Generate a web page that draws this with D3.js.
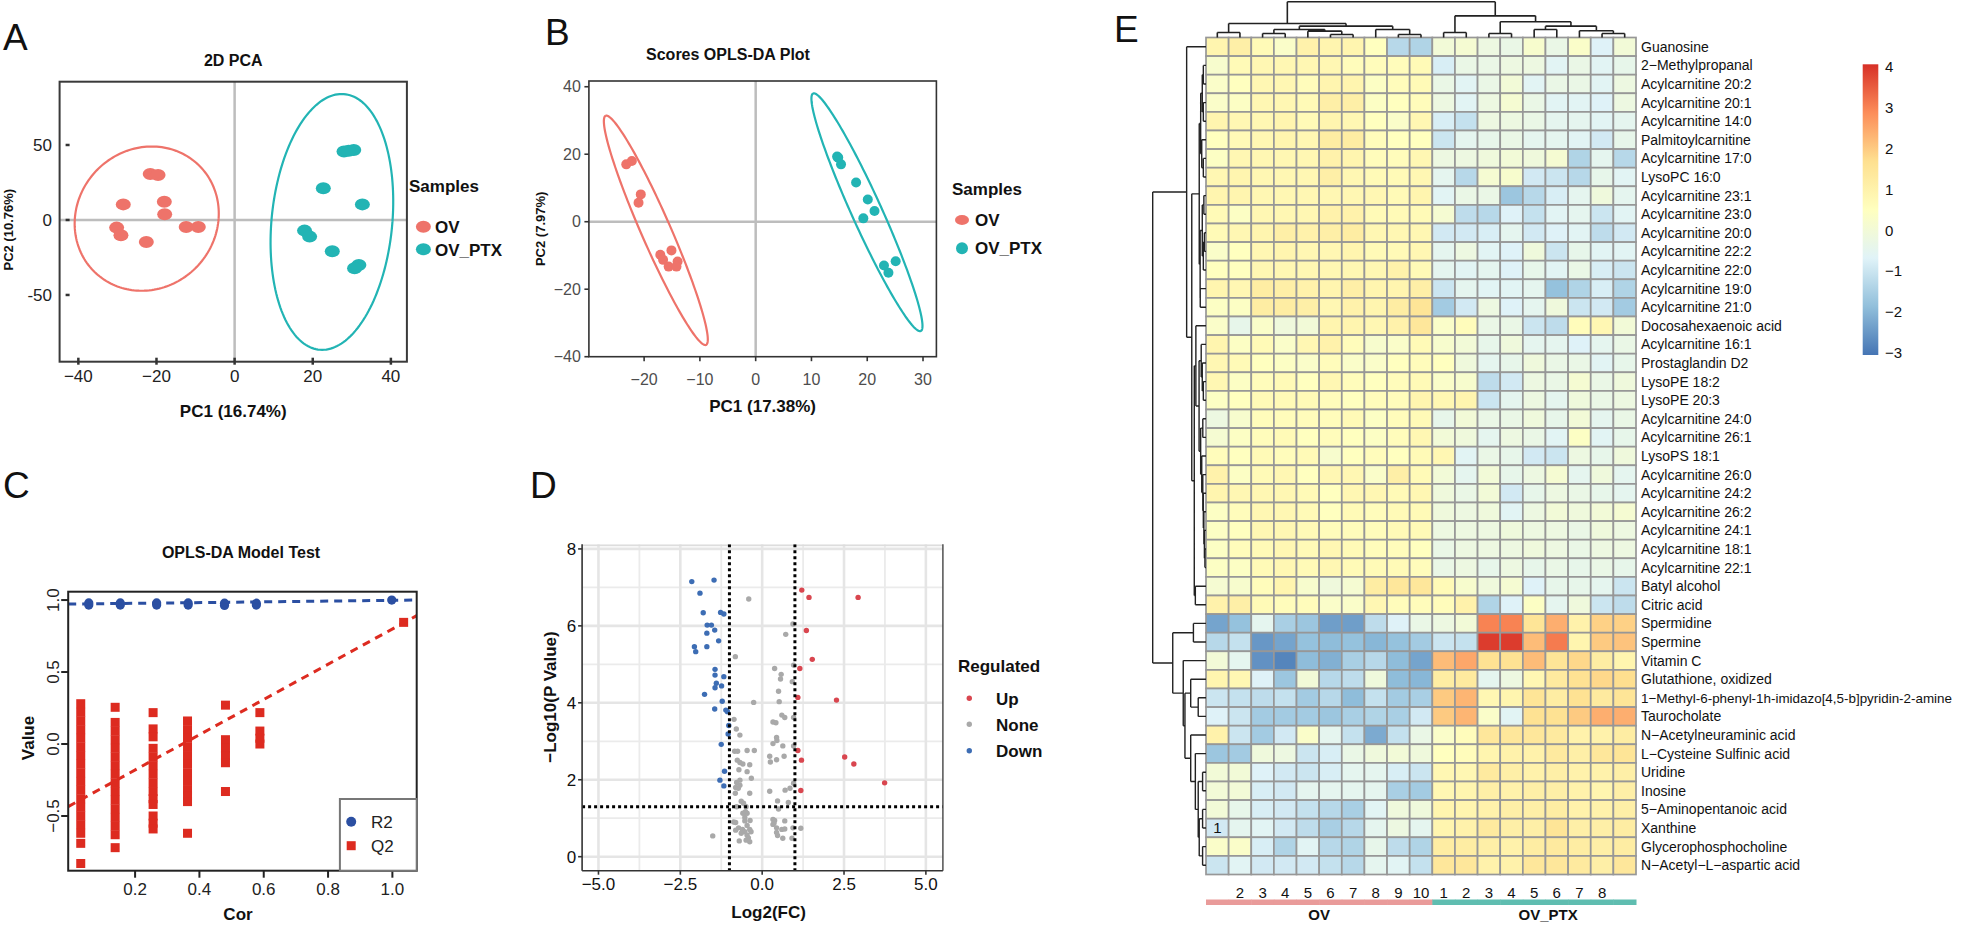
<!DOCTYPE html>
<html><head><meta charset="utf-8">
<script src="https://cdn.jsdelivr.net/npm/d3@7"></script>
<style>
body{margin:0;background:#fff}
svg{display:block}
text{font-family:"Liberation Sans",Arial,Helvetica,sans-serif}
</style></head>
<body><svg id="fig" width="1962" height="926"></svg>
<script>
// ================= DATA =================
// Panel A: 2D PCA
const pcaA_xTicks = [-40, -20, 0, 20, 40];
const pcaA_yTicks = [50, 0, -50];
const ovA_x = [-21.6, -19.6, -28.5, -18.0, -17.9, -30.2, -29.1, -22.6, -12.4, -9.3];
const ovA_y = [30.7, 30.0, 10.4, 12.2, 3.8, -5.1, -10.2, -14.7, -4.7, -4.7];
const ptxA_x = [28.0, 30.5, 29.2, 22.7, 32.7, 17.9, 19.2, 25.0, 31.8, 30.7];
const ptxA_y = [45.6, 46.7, 46.1, 21.1, 10.4, -7.1, -11.1, -20.9, -30.0, -32.2];
// ellipse: centre, semi-axes, shear
const ellA_OV = {cx: -22.5, cy: 0.9, rx: 18.4, ry: 48.1, sh: 1.3};
const ellA_PTX = {cx: 24.9, cy: -1.3, rx: 15.5, ry: 85.3, sh: 2.5};

// Panel B: OPLS-DA scores
const oplsB_xTicks = [-20, -10, 0, 10, 20, 30];
const oplsB_yTicks = [-40, -20, 0, 20, 40];
const ovB_x = [-23.2, -22.2, -20.6, -21.0, -17.1, -16.6, -15.1, -15.6, -14.0, -14.2];
const ovB_y = [17.0, 18.0, 8.1, 5.6, -9.8, -11.3, -8.5, -13.3, -11.8, -13.3];
const ptxB_x = [14.6, 15.3, 18.0, 20.1, 21.3, 19.3, 23.0, 23.8, 25.1, 14.8];
const ptxB_y = [19.3, 17.0, 11.6, 6.6, 3.2, 1.0, -13.0, -15.1, -11.7, 19.0];
// ellipse tips (data) + minor half width (px)
const ellB_OV = {x1: -26.9, y1: 31.4, x2: -8.9, y2: -36.5, w: 14.7};
const ellB_PTX = {x1: 10.3, y1: 38.0, x2: 29.6, y2: -32.4, w: 15.0};

// Panel C: permutation test
const permC_xTicks = [0.2, 0.4, 0.6, 0.8, 1.0];
const permC_yTicks = [-0.5, 0.0, 0.5, 1.0];
const r2X = [0.056, 0.154, 0.267, 0.365, 0.478, 0.577, 0.998];
const r2Vals = [[0.965, 0.98], [0.965, 0.98], [0.965, 0.98], [0.965, 0.98], [0.963, 0.978], [0.965, 0.978], [1.0]];
const q2X = [0.031, 0.138, 0.256, 0.363, 0.481, 0.588, 1.035];
const q2Vals = [
  [0.28, 0.22, 0.16, 0.10, 0.04, -0.02, -0.08, -0.14, -0.20, -0.26, -0.32, -0.38, -0.44, -0.50, -0.56, -0.62, -0.69, -0.83],
  [0.255, 0.15, 0.09, 0.03, -0.03, -0.09, -0.15, -0.21, -0.27, -0.33, -0.39, -0.45, -0.51, -0.57, -0.63, -0.72],
  [0.218, 0.105, 0.05, -0.03, -0.09, -0.15, -0.21, -0.27, -0.33, -0.38, -0.42, -0.50, -0.55, -0.59],
  [0.16, 0.10, 0.04, -0.02, -0.08, -0.14, -0.20, -0.26, -0.32, -0.36, -0.40, -0.62],
  [0.27, 0.03, -0.03, -0.08, -0.13, -0.33],
  [0.218, 0.09, 0.04, 0.00],
  [0.845]
];
const r2Line = {intercept: 0.972, slope: 0.026};
const q2Line = {intercept: -0.425, slope: 1.224};

// Panel D: volcano
const volD_xTicks = [-5.0, -2.5, 0.0, 2.5, 5.0];
const volD_yTicks = [0, 2, 4, 6, 8];
const fcCut = [-1, 1];
const pCut = 1.301;
const upX = [1.21, 1.43, 2.93, 1.35, 1.53, 1.15, 1.09, 2.27, 1.09, 1.20, 2.52, 2.80, 3.74, 1.18];
const upY = [6.93, 6.74, 6.74, 5.88, 5.13, 4.89, 4.14, 4.07, 2.76, 2.51, 2.59, 2.41, 1.92, 1.72];
const downX = [-2.15, -1.47, -1.90, -1.80, -1.27, -1.17, -1.68, -1.55, -1.45, -1.69, -1.33, -2.07, -2.03, -1.69, -1.44, -1.44, -1.17, -1.40, -1.44, -1.24, -1.76, -1.22, -1.45, -1.11, -1.06, -1.02, -1.04, -1.25, -1.15, -1.29, -1.17];
const downY = [7.15, 7.19, 6.85, 6.34, 6.35, 6.31, 6.02, 6.02, 5.89, 5.81, 5.61, 5.46, 5.33, 5.46, 4.87, 4.72, 4.68, 4.51, 4.39, 4.44, 4.22, 4.04, 3.84, 3.81, 3.77, 3.41, 3.19, 2.92, 2.22, 1.99, 1.84];
const noneX = [-0.41, 0.94, 0.72, -0.82, 0.38, 0.58, 0.56, 0.92, 0.96, 0.50, 0.52, -0.26, 0.60, 0.69, 0.96, -0.86, 0.33, 0.42, -0.79, -0.68, 0.44, 0.45, 0.33, 0.63, 0.96, -0.84, -0.75, -0.46, -0.24, 0.23, 0.67, 0.44, 0.25, -0.76, -0.68, -0.59, -0.38, -0.46, -0.71, -0.33, -0.68, -0.78, -0.81, -0.73, -0.68, -0.82, -0.38, 0.23, 0.70, 0.85, 0.96, -0.64, -0.57, 0.47, 0.80, -0.78, -0.49, 0.50, -0.51, -0.46, -0.59, -0.53, -0.81, -0.53, -0.37, 0.33, 0.38, 0.69, 0.33, -0.72, -0.60, -0.38, -0.46, 0.44, 0.60, 0.69, 0.94, 1.18, -1.51, -0.53, -0.64, -0.46, -0.42, -0.70, -0.38, -0.49, 0.44, 0.47, 0.63, 0.91, 0.36, -0.87, -0.81, -0.34];
const noneY = [6.70, 6.05, 5.78, 5.20, 4.89, 4.74, 4.62, 4.55, 4.98, 4.30, 4.03, 4.01, 3.68, 3.62, 3.62, 3.57, 3.50, 3.48, 3.32, 3.16, 3.10, 3.02, 2.94, 2.88, 2.88, 2.74, 2.74, 2.76, 2.76, 2.61, 2.61, 2.52, 2.46, 2.51, 2.45, 2.41, 2.39, 2.21, 2.26, 2.04, 1.99, 1.93, 1.80, 1.78, 1.86, 1.65, 1.65, 1.70, 1.73, 1.78, 1.91, 1.44, 1.39, 1.45, 1.41, 1.30, 1.30, 1.24, 1.17, 1.13, 1.13, 1.02, 0.89, 0.93, 0.94, 0.97, 0.94, 0.93, 0.84, 0.75, 0.71, 0.71, 0.81, 0.75, 0.71, 0.72, 0.75, 0.74, 0.54, 0.65, 0.61, 0.56, 0.49, 0.41, 0.39, 0.43, 0.63, 0.55, 0.48, 0.48, 0.87, 0.90, 0.69, 0.65];

// Panel E: heatmap
const rowNames = ["Guanosine", "2\u2212Methylpropanal", "Acylcarnitine 20:2", "Acylcarnitine 20:1", "Acylcarnitine 14:0", "Palmitoylcarnitine", "Acylcarnitine 17:0", "LysoPC 16:0", "Acylcarnitine 23:1", "Acylcarnitine 23:0", "Acylcarnitine 20:0", "Acylcarnitine 22:2", "Acylcarnitine 22:0", "Acylcarnitine 19:0", "Acylcarnitine 21:0", "Docosahexaenoic acid", "Acylcarnitine 16:1", "Prostaglandin D2", "LysoPE 18:2", "LysoPE 20:3", "Acylcarnitine 24:0", "Acylcarnitine 26:1", "LysoPS 18:1", "Acylcarnitine 26:0", "Acylcarnitine 24:2", "Acylcarnitine 26:2", "Acylcarnitine 24:1", "Acylcarnitine 18:1", "Acylcarnitine 22:1", "Batyl alcohol", "Citric acid", "Spermidine", "Spermine", "Vitamin C", "Glutathione, oxidized", "1\u2212Methyl-6-phenyl-1h-imidazo[4,5-b]pyridin-2-amine", "Taurocholate", "N\u2212Acetylneuraminic acid", "L\u2212Cysteine Sulfinic acid", "Uridine", "Inosine", "5\u2212Aminopentanoic acid", "Xanthine", "Glycerophosphocholine", "N\u2212Acetyl\u2212L\u2212aspartic acid"];
const colLabels = ["1", "2", "3", "4", "5", "6", "7", "8", "9", "10", "1", "2", "3", "4", "5", "6", "7", "8", ""];
const colGroups = ["OV", "OV", "OV", "OV", "OV", "OV", "OV", "OV", "OV", "OV", "OV_PTX", "OV_PTX", "OV_PTX", "OV_PTX", "OV_PTX", "OV_PTX", "OV_PTX", "OV_PTX", "OV_PTX"];
const groupNames = ["OV", "OV_PTX"];
const heatValues = [
  [0.9, 1.1, 0.7, 0.3, 1.0, 0.9, 0.9, 0.5, -1.3, -1.4, 0.0, 0.1, -0.2, -0.3, 0.2, -0.3, 0.3, -0.7, 0.0],
  [0.2, 0.7, 0.8, 0.8, 0.8, 0.8, 0.6, 0.6, 0.6, 0.7, -0.8, -0.3, -0.3, -0.2, -0.2, -0.6, -0.3, -0.6, -0.4],
  [0.3, 0.5, 0.8, 0.8, 0.6, 0.9, 0.9, 0.4, 0.6, 0.7, -0.3, -0.6, -0.3, 0.0, -0.6, -0.3, -0.3, -0.6, -0.2],
  [0.3, 0.4, 0.8, 0.8, 0.7, 1.1, 1.1, 0.4, 0.5, 0.6, -0.2, -0.6, -0.2, 0.1, -0.3, -0.6, -0.6, -0.7, -0.2],
  [0.9, 0.8, 0.8, 0.9, 0.7, 0.9, 0.8, 0.5, 0.3, 0.8, -0.8, -1.1, -0.2, -0.2, -0.3, -0.5, -0.5, -0.6, -0.5],
  [0.5, 0.7, 0.8, 0.9, 0.8, 1.2, 1.2, 0.6, 0.5, 0.5, -1.0, -0.5, -0.4, -0.3, -0.5, -0.5, -0.6, -0.9, -0.4],
  [0.4, 0.8, 0.8, 0.8, 0.8, 1.0, 0.9, 0.6, 0.6, 0.8, -0.2, -0.2, -0.1, 0.0, -0.1, 0.1, -1.4, -0.5, -1.3],
  [0.8, 0.9, 0.8, 0.8, 0.8, 1.1, 0.8, 0.7, 0.7, 0.8, -0.5, -1.3, 0.1, 0.2, -0.9, -1.0, -1.3, -0.4, -0.6],
  [0.9, 0.9, 0.8, 0.8, 0.8, 0.8, 0.8, 0.8, 0.7, 0.9, -0.6, -0.3, -0.3, -1.7, -1.3, -0.8, -0.5, -0.1, -0.5],
  [0.7, 0.4, 0.8, 0.8, 0.8, 1.0, 1.0, 0.7, 0.7, 0.7, 0.1, -1.2, -1.3, -0.7, -1.1, -0.6, -0.5, -1.0, -0.6],
  [0.7, 0.8, 0.9, 1.1, 1.0, 1.1, 1.2, 0.8, 0.8, 0.8, -0.9, -0.9, -0.8, -0.5, -0.9, -0.7, -0.6, -1.2, -0.9],
  [0.3, 0.5, 0.8, 0.9, 0.8, 0.8, 0.9, 0.7, 0.7, 0.8, -0.5, -0.2, -0.6, -0.7, -0.1, -1.0, -0.4, -0.6, -0.6],
  [0.5, 0.5, 0.8, 0.8, 0.8, 0.8, 0.8, 0.8, 1.0, 0.7, -0.5, -0.6, -0.5, -0.7, -0.4, -0.6, -0.3, -0.8, -1.0],
  [0.9, 0.8, 1.2, 1.1, 1.0, 0.9, 1.1, 0.9, 0.9, 1.1, -1.0, -0.5, -0.6, -0.6, -0.5, -1.8, -1.4, -0.8, -1.4],
  [0.4, 0.4, 1.2, 1.2, 1.1, 0.8, 1.0, 0.9, 1.2, 1.5, -1.6, -0.9, -0.2, -0.7, -0.5, -0.1, -1.0, -0.9, -1.6],
  [0.3, -0.4, 0.3, -0.1, 0.0, 0.9, 0.9, 0.8, 1.0, 1.4, 0.3, 0.6, -0.3, -0.3, -1.0, -1.2, 0.6, 0.8, 0.0],
  [0.9, 0.4, 0.7, 0.3, 0.8, 1.0, 0.6, 0.2, 0.3, 0.7, 0.2, 0.0, -0.4, -0.1, -0.5, -0.5, -0.7, -0.5, -0.3],
  [0.8, 0.7, 0.5, 0.4, 0.3, 0.6, 0.3, 0.3, 0.5, 0.6, 0.5, -0.1, -0.5, -0.4, -0.1, -0.3, -0.3, -0.6, -0.4],
  [0.8, 0.4, 0.6, 0.7, 0.5, 0.8, 0.6, 0.5, 0.6, 0.7, 0.3, 0.2, -1.2, -0.9, -0.2, -0.3, 0.1, -0.3, -0.1],
  [0.4, 0.5, 0.7, 0.7, 0.7, 0.6, 0.5, 0.6, 0.6, 0.9, 0.8, 0.9, -1.0, -0.5, -0.2, -0.5, -0.1, -0.3, -0.2],
  [-0.2, 0.2, 0.6, 0.6, 0.6, 0.6, 0.7, 0.4, 0.6, 0.7, -0.4, 0.0, -0.3, -0.3, -0.1, -0.4, 0.0, -0.5, -0.3],
  [0.1, 0.4, 0.6, 0.7, 0.5, 0.6, 0.5, 0.4, 0.6, 0.8, 0.0, -0.1, -0.5, -0.2, -0.3, -0.6, 0.4, -0.6, -0.4],
  [0.6, 0.5, 0.7, 0.6, 0.7, 0.2, 0.5, 0.6, 0.5, 0.7, 0.8, -0.6, -0.3, -0.4, -0.9, -1.0, -0.2, -0.4, -0.1],
  [1.0, 0.4, 0.7, 0.8, 0.5, 0.8, 0.8, 0.3, 1.1, 0.7, 0.0, -0.5, 0.0, -0.4, -0.2, 0.1, -0.5, -0.1, -0.5],
  [0.9, 0.8, 0.8, 0.8, 0.7, 0.5, 0.8, 0.8, 0.7, 0.8, -0.1, -0.3, 0.0, -0.9, -0.4, -0.2, -0.3, -0.4, -0.5],
  [0.4, 0.6, 0.8, 0.8, 0.7, 0.5, 0.7, 0.6, 0.7, 0.7, -0.1, -0.2, -0.1, -0.6, -0.2, 0.0, -0.1, 0.0, 0.1],
  [0.4, 0.5, 0.8, 0.8, 0.7, 0.6, 0.6, 0.6, 0.7, 0.7, -0.2, -0.2, -0.2, -0.1, -0.2, -0.2, -0.3, -0.1, -0.2],
  [0.4, 0.6, 0.7, 0.8, 0.7, 0.8, 0.7, 0.6, 0.6, 0.5, -0.3, -0.2, -0.2, -0.2, -0.1, -0.2, -0.3, -0.2, -0.2],
  [0.4, 0.4, 0.7, 0.8, 0.7, 0.8, 0.7, 0.7, 0.7, 0.6, -0.3, -0.2, -0.4, -0.2, -0.4, -0.3, -0.4, -0.3, -0.4],
  [0.1, 0.2, 0.6, 0.9, 0.2, -0.1, 0.1, 1.2, 1.4, 1.4, 0.7, 0.2, -0.1, 0.1, -0.7, -0.4, -0.4, -0.5, -1.0],
  [1.0, 1.1, 0.7, 0.6, 0.6, 0.3, 0.3, 0.8, 0.6, 0.6, 0.6, 1.0, -1.4, -0.7, 0.4, -0.5, -0.1, -1.0, -1.2],
  [-2.3, -1.8, -0.5, -1.5, -1.7, -2.4, -2.4, -1.2, -0.7, -0.3, -0.2, 0.0, 3.0, 3.0, 1.5, 2.4, 1.0, 1.9, 1.9],
  [-1.3, -1.1, -2.5, -2.3, -1.8, -1.9, -1.8, -2.0, -1.8, -1.6, -1.0, -1.1, 3.9, 3.9, 2.2, 3.1, 0.9, 2.0, 2.1],
  [0.0, -0.5, -2.6, -2.8, -1.9, -2.1, -1.5, -1.3, -1.9, -2.3, 2.2, 2.5, 1.6, 1.6, 2.2, 1.5, 1.8, 1.2, 0.9],
  [0.9, 0.8, -0.7, -1.7, 0.0, -1.3, -1.2, -0.1, -1.9, -2.0, 1.2, 1.3, -0.5, -0.2, 0.8, 1.3, 1.6, 1.8, 1.7],
  [-1.0, -1.1, -1.2, -1.1, -1.6, -1.3, -1.9, -1.1, -1.6, -1.5, 2.0, 2.3, 0.8, 0.9, 1.5, 1.2, 1.6, 1.3, 1.5],
  [-0.7, -1.0, -1.6, -1.6, -1.6, -1.7, -1.5, -1.4, -1.5, -0.9, 2.0, 2.3, 0.3, -0.6, 1.6, 1.6, 2.0, 2.4, 2.4],
  [1.0, -1.0, -1.6, -0.9, 0.3, -0.5, -1.1, -2.2, -1.1, -0.3, 0.3, 0.6, 1.4, 1.4, 1.4, 1.3, 1.0, 1.0, 1.2],
  [-1.7, -1.6, -0.1, -0.2, -1.0, -0.8, -0.3, -0.1, 0.0, -0.1, 0.5, 0.6, 0.9, 1.0, 1.0, 1.3, 1.1, 1.4, 1.5],
  [0.0, 0.0, -0.7, -0.9, -1.0, -0.8, -0.5, -0.5, -0.8, -1.0, 0.8, 0.8, 1.3, 1.1, 1.0, 1.1, 1.0, 1.0, 1.1],
  [0.0, 0.0, -0.8, -0.9, -0.5, -0.5, -0.5, -0.5, -1.5, -1.6, 0.8, 0.9, 1.1, 1.0, 1.1, 1.1, 1.0, 0.9, 1.1],
  [0.0, -0.4, -0.8, -0.9, -1.1, -1.3, -1.5, -0.6, -0.1, -0.1, 0.9, 0.9, 1.0, 1.1, 1.1, 1.2, 1.0, 1.0, 1.1],
  [-0.9, -0.5, -0.6, -0.9, -1.2, -1.5, -1.3, -0.5, -0.2, -0.5, 0.9, 1.0, 1.3, 1.1, 1.1, 1.5, 1.1, 1.1, 1.2],
  [0.3, 0.3, -0.8, -1.4, -0.6, -1.3, -1.4, -0.4, -1.2, -1.4, 1.2, 1.2, 1.1, 1.0, 1.2, 1.3, 1.2, 1.1, 1.2],
  [-1.0, -0.6, -0.9, -0.9, -0.9, -1.1, -1.3, -0.5, -0.6, -1.1, 1.4, 1.4, 1.0, 1.0, 1.4, 1.4, 1.3, 1.1, 1.4]
];
const heatLegendTicks = [4, 3, 2, 1, 0, -1, -2, -3];
const heatRange = [-3.05, 4.05];
const heatColors = ["#4575B4", "#91BFDB", "#E0F3F8", "#FFFFBF", "#FEE090", "#FC8D59", "#D73027"];
// dendrograms: [height, left, right]; leaves = index
const colTree = [1.0,
  [0.393, [0.14, 0, 1], [0.318, [0.224, [0.112, 2, 3], [0.178, 4, [0.084, 5, 6]]], [0.224, 7, [0.084, 8, 9]]]],
  [0.607, [0.14, 10, 11], [0.44, [0.112, 12, 13], [0.318, [0.224, 14, 15], [0.187, 16, [0.112, 17, 18]]]]]];
const rowTree = [1.0,
  [0.363, 0,
    [0.267,
      [0.127,
        [0.10, [0.07, [0.05, 1, 2], [0.05, 3, 4]], [0.08, 5, [0.05, 6, 7]]],
        [0.11, [0.07, [0.04, 8, 9], [0.05, [0.03, 10, 11], 12]], [0.108, 13, 14]]],
      [0.22,
        [0.19, 15,
          [0.13, [0.09, 16, [0.07, 17, [0.05, 18, 19]]],
                 [0.10, [0.06, 20, 21], [0.08, 22, [0.06, 23, [0.05, 24, [0.04, 25, [0.03, 26, [0.02, 27, 28]]]]]]]]],
        [0.2, 29, 30]]]],
  [0.624,
    [0.236, 31, 32],
    [0.427, 33,
      [0.395,
        [0.287, 34, [0.146, 35, 36]],
        [0.287, 37, [0.2, 38, [0.146, [0.064, 39, 40], [0.127, [0.064, 41, 42], [0.064, 43, 44]]]]]]]]];

// ================= DRAWING =================
const svg = d3.select("#fig");
const RED = "#EE736A", TEAL = "#22B4B4";

function txt(g, x, y, s, o = {}) {
  const t = g.append("text").attr("x", x).attr("y", y).text(s)
    .attr("font-size", o.size || 16)
    .attr("font-weight", o.bold ? "bold" : "normal")
    .attr("text-anchor", o.anchor || "start")
    .attr("fill", o.fill || "#111");
  if (o.rotate) t.attr("transform", `rotate(-90,${x},${y})`);
  if (o.dy) t.attr("dy", o.dy);
  return t;
}
function line(g, x1, y1, x2, y2, stroke, w, dash) {
  const l = g.append("line").attr("x1", x1).attr("y1", y1).attr("x2", x2).attr("y2", y2)
    .attr("stroke", stroke).attr("stroke-width", w);
  if (dash) l.attr("stroke-dasharray", dash);
  return l;
}
const defs = svg.append("defs");
function clip(id, x, y, w, h) {
  defs.append("clipPath").attr("id", id).append("rect").attr("x", x).attr("y", y).attr("width", w).attr("height", h);
}

// ---------- Panel A ----------
{
  const g = svg.append("g");
  const xA = d3.scaleLinear([-44.8, 44.1], [59.6, 406.9]);
  const yA = d3.scaleLinear([-94.5, 92.2], [361.7, 81.7]);
  const [L, R] = xA.range(), [B, T] = yA.range();
  clip("clipA", L, T, R - L, B - T);
  txt(g, 3, 50, "A", {size: 37});
  txt(g, (L + R) / 2, 66, "2D PCA", {size: 16, bold: true, anchor: "middle"});
  line(g, xA(0), T, xA(0), B, "#BDBDBD", 2.5);
  line(g, L, yA(0), R, yA(0), "#BDBDBD", 2.5);
  const ell = e => d3.line()(d3.range(0, 181).map(i => {
    const t = i / 180 * 2 * Math.PI;
    return [xA(e.cx + e.rx * Math.cos(t) + e.sh * Math.sin(t)), yA(e.cy + e.ry * Math.sin(t))];
  }));
  const pg = g.append("g").attr("clip-path", "url(#clipA)");
  pg.append("path").attr("d", ell(ellA_OV)).attr("fill", "none").attr("stroke", RED).attr("stroke-width", 2.2);
  pg.append("path").attr("d", ell(ellA_PTX)).attr("fill", "none").attr("stroke", TEAL).attr("stroke-width", 2.2);
  ovA_x.forEach((x, i) => pg.append("ellipse").attr("cx", xA(x)).attr("cy", yA(ovA_y[i])).attr("rx", 7.5).attr("ry", 6).attr("fill", RED));
  ptxA_x.forEach((x, i) => pg.append("ellipse").attr("cx", xA(x)).attr("cy", yA(ptxA_y[i])).attr("rx", 7.5).attr("ry", 6).attr("fill", TEAL));
  g.append("rect").attr("x", L).attr("y", T).attr("width", R - L).attr("height", B - T).attr("fill", "none").attr("stroke", "#3a3a3a").attr("stroke-width", 2);
  pcaA_xTicks.forEach(v => {
    line(g, xA(v), B - 4, xA(v), B + 3, "#333", 2.5);
    txt(g, xA(v), 382, v < 0 ? "\u2212" + Math.abs(v) : String(v), {size: 17, anchor: "middle", fill: "#222"});
  });
  pcaA_yTicks.forEach(v => {
    line(g, L + 6, yA(v), L + 10, yA(v), "#333", 2.5);
    txt(g, 52, yA(v), String(v), {size: 17, anchor: "end", dy: "0.35em", fill: "#222"});
  });
  txt(g, (L + R) / 2, 417, "PC1 (16.74%)", {size: 17, bold: true, anchor: "middle"});
  txt(g, 13.5, (T + B) / 2 + 8, "PC2 (10.76%)", {size: 13, bold: true, anchor: "middle", rotate: true});
  txt(g, 409, 192, "Samples", {size: 17, bold: true});
  [[RED, "OV", 226.7], [TEAL, "OV_PTX", 249.3]].forEach(([c, s, y]) => {
    g.append("ellipse").attr("cx", 423.4).attr("cy", y).attr("rx", 7.5).attr("ry", 6).attr("fill", c);
    txt(g, 435, y + 6.5, s, {size: 17, bold: true});
  });
}

// ---------- Panel B ----------
{
  const g = svg.append("g");
  const xB = d3.scaleLinear([-29.9, 32.4], [588.9, 936.4]);
  const yB = d3.scaleLinear([-40, 41.7], [356.7, 81]);
  const [L, R] = xB.range(), [B, T] = yB.range();
  clip("clipB", L, T, R - L, B - T);
  txt(g, 545, 45, "B", {size: 37});
  txt(g, 728, 60, "Scores OPLS-DA Plot", {size: 16, bold: true, anchor: "middle"});
  line(g, xB(0), T, xB(0), B, "#BDBDBD", 2.5);
  line(g, L, yB(0), R, yB(0), "#BDBDBD", 2.5);
  const pg = g.append("g").attr("clip-path", "url(#clipB)");
  const ell = e => {
    const p1 = [xB(e.x1), yB(e.y1)], p2 = [xB(e.x2), yB(e.y2)];
    const c = [(p1[0] + p2[0]) / 2, (p1[1] + p2[1]) / 2];
    const u = [(p1[0] - p2[0]) / 2, (p1[1] - p2[1]) / 2];
    const len = Math.hypot(u[0], u[1]);
    const v = [-u[1] / len * e.w, u[0] / len * e.w];
    return d3.line()(d3.range(0, 181).map(i => {
      const t = i / 180 * 2 * Math.PI;
      return [c[0] + u[0] * Math.cos(t) + v[0] * Math.sin(t), c[1] + u[1] * Math.cos(t) + v[1] * Math.sin(t)];
    }));
  };
  pg.append("path").attr("d", ell(ellB_OV)).attr("fill", "none").attr("stroke", RED).attr("stroke-width", 2.2);
  pg.append("path").attr("d", ell(ellB_PTX)).attr("fill", "none").attr("stroke", TEAL).attr("stroke-width", 2.2);
  ovB_x.forEach((x, i) => pg.append("circle").attr("cx", xB(x)).attr("cy", yB(ovB_y[i])).attr("r", 5).attr("fill", RED));
  ptxB_x.forEach((x, i) => pg.append("circle").attr("cx", xB(x)).attr("cy", yB(ptxB_y[i])).attr("r", 5).attr("fill", TEAL));
  g.append("rect").attr("x", L).attr("y", T).attr("width", R - L).attr("height", B - T).attr("fill", "none").attr("stroke", "#333").attr("stroke-width", 1.6);
  oplsB_xTicks.forEach(v => {
    line(g, xB(v), B, xB(v), B + 4.5, "#333", 1.6);
    txt(g, xB(v), 385, v < 0 ? "\u2212" + Math.abs(v) : String(v), {size: 16, anchor: "middle", fill: "#4D4D4D"});
  });
  oplsB_yTicks.forEach(v => {
    line(g, L - 4.5, yB(v), L, yB(v), "#333", 1.6);
    txt(g, L - 8, yB(v), v < 0 ? "\u2212" + Math.abs(v) : String(v), {size: 16, anchor: "end", dy: "0.35em", fill: "#4D4D4D"});
  });
  txt(g, (L + R) / 2, 412, "PC1 (17.38%)", {size: 17, bold: true, anchor: "middle"});
  txt(g, 545, (T + B) / 2 + 10, "PC2 (7.97%)", {size: 13, bold: true, anchor: "middle", rotate: true});
  txt(g, 952, 195, "Samples", {size: 17, bold: true});
  g.append("ellipse").attr("cx", 962).attr("cy", 220).attr("rx", 7).attr("ry", 5).attr("fill", RED);
  txt(g, 975, 226, "OV", {size: 17, bold: true});
  g.append("circle").attr("cx", 962).attr("cy", 248.3).attr("r", 6).attr("fill", TEAL);
  txt(g, 975, 254.3, "OV_PTX", {size: 17, bold: true});
}

// ---------- Panel C ----------
{
  const g = svg.append("g");
  const xC = d3.scaleLinear([-0.008, 1.0756], [68.2, 416.7]);
  const yC = d3.scaleLinear([-0.88, 1.058], [870.7, 591.7]);
  const [L, R] = xC.range(), [B, T] = yC.range();
  clip("clipC", L, T, R - L, B - T);
  const BLUE = "#2B4FA2", RD = "#DD2B20";
  txt(g, 3, 498, "C", {size: 37});
  txt(g, 241, 558, "OPLS-DA Model Test", {size: 16, bold: true, anchor: "middle"});
  const pg = g.append("g").attr("clip-path", "url(#clipC)");
  q2X.forEach((x, i) => q2Vals[i].forEach(v =>
    pg.append("rect").attr("x", xC(x) - 4.5).attr("y", yC(v) - 4.5).attr("width", 9).attr("height", 9).attr("fill", RD)));
  r2X.forEach((x, i) => r2Vals[i].forEach(v =>
    pg.append("circle").attr("cx", xC(x)).attr("cy", yC(v)).attr("r", 4.6).attr("fill", BLUE)));
  const [d0, d1] = xC.domain();
  pg.append("line").attr("x1", xC(d0)).attr("y1", yC(r2Line.intercept + r2Line.slope * d0))
    .attr("x2", xC(d1)).attr("y2", yC(r2Line.intercept + r2Line.slope * d1))
    .attr("stroke", BLUE).attr("stroke-width", 3).attr("stroke-dasharray", "8,6");
  pg.append("line").attr("x1", xC(d0)).attr("y1", yC(q2Line.intercept + q2Line.slope * d0))
    .attr("x2", xC(d1)).attr("y2", yC(q2Line.intercept + q2Line.slope * d1))
    .attr("stroke", RD).attr("stroke-width", 3).attr("stroke-dasharray", "8,6");
  g.append("rect").attr("x", L).attr("y", T).attr("width", R - L).attr("height", B - T).attr("fill", "none").attr("stroke", "#222").attr("stroke-width", 2);
  permC_xTicks.forEach(v => {
    line(g, xC(v), B, xC(v), B + 7, "#222", 2);
    txt(g, xC(v), 895, v.toFixed(1), {size: 17, anchor: "middle", fill: "#222"});
  });
  permC_yTicks.forEach(v => {
    line(g, L - 7, yC(v), L, yC(v), "#222", 2);
    txt(g, 59, yC(v), v < 0 ? "\u2212" + Math.abs(v).toFixed(1) : v.toFixed(1), {size: 17, anchor: "middle", fill: "#222", rotate: true});
  });
  txt(g, 34, 738, "Value", {size: 17, bold: true, anchor: "middle", rotate: true});
  txt(g, 238, 920, "Cor", {size: 17, bold: true, anchor: "middle"});
  // legend
  g.append("rect").attr("x", 339.9).attr("y", 799).attr("width", R - 339.9).attr("height", B - 799).attr("fill", "#fff").attr("stroke", "#777").attr("stroke-width", 2);
  g.append("circle").attr("cx", 351.2).attr("cy", 821.7).attr("r", 5).attr("fill", BLUE);
  txt(g, 371, 828, "R2", {size: 17, fill: "#222"});
  g.append("rect").attr("x", 346.7).attr("y", 841.2).attr("width", 9).attr("height", 9).attr("fill", RD);
  txt(g, 371, 852, "Q2", {size: 17, fill: "#222"});
}

// ---------- Panel D ----------
{
  const g = svg.append("g");
  const xD = d3.scaleLinear([-5.5, 5.52], [582.1, 942.9]);
  const yD = d3.scaleLinear([-0.364, 8.12], [870.7, 544.3]);
  const [L, R] = xD.range(), [B, T] = yD.range();
  clip("clipD", L, T, R - L, B - T);
  txt(g, 530, 498, "D", {size: 37});
  const gg = g.append("g").attr("clip-path", "url(#clipD)");
  [-3.75, -1.25, 1.25, 3.75].forEach(v => line(gg, xD(v), T, xD(v), B, "#EBEBEB", 1.8));
  [1, 3, 5, 7].forEach(v => line(gg, L, yD(v), R, yD(v), "#EBEBEB", 1.8));
  volD_xTicks.forEach(v => line(gg, xD(v), T, xD(v), B, "#E5E5E5", 2.6));
  volD_yTicks.forEach(v => line(gg, L, yD(v), R, yD(v), "#E5E5E5", 2.6));
  line(gg, L, T + 1, R, T + 1, "#DDDDDD", 2);
  noneX.forEach((x, i) => gg.append("circle").attr("cx", xD(x)).attr("cy", yD(noneY[i])).attr("r", 2.7).attr("fill", "#A9A9A9"));
  upX.forEach((x, i) => gg.append("circle").attr("cx", xD(x)).attr("cy", yD(upY[i])).attr("r", 2.7).attr("fill", "#D9464F"));
  downX.forEach((x, i) => gg.append("circle").attr("cx", xD(x)).attr("cy", yD(downY[i])).attr("r", 2.7).attr("fill", "#3D6DB4"));
  fcCut.forEach(v => line(gg, xD(v), T, xD(v), B, "#000", 3, "3,3"));
  line(gg, L, yD(pCut), R, yD(pCut), "#000", 3, "3,3");
  line(g, L, T, L, B, "#333", 1.6);
  line(g, R, T, R, B, "#444", 1.4);
  line(g, L, B, R, B, "#333", 1.6);
  volD_xTicks.forEach(v => {
    line(g, xD(v), B, xD(v), B + 4, "#333", 1.6);
    txt(g, xD(v), 890, v < 0 ? "\u2212" + Math.abs(v).toFixed(1) : v.toFixed(1), {size: 17, anchor: "middle", fill: "#111"});
  });
  volD_yTicks.forEach(v => {
    line(g, L - 4, yD(v), L, yD(v), "#333", 1.6);
    txt(g, L - 6, yD(v), String(v), {size: 17, anchor: "end", dy: "0.35em", fill: "#111"});
  });
  txt(g, 768.6, 918, "Log2(FC)", {size: 17, bold: true, anchor: "middle"});
  txt(g, 556, 697, "\u2212Log10(P Value)", {size: 17, bold: true, anchor: "middle", rotate: true});
  txt(g, 958, 672, "Regulated", {size: 17, bold: true});
  [["#D9464F", "Up", 698.3], ["#A9A9A9", "None", 724.3], ["#3D6DB4", "Down", 750.7]].forEach(([c, s, y]) => {
    g.append("circle").attr("cx", 969.3).attr("cy", y).attr("r", 2.7).attr("fill", c);
    txt(g, 996, y + 6.5, s, {size: 17, bold: true});
  });
}

// ---------- Panel E ----------
{
  const g = svg.append("g");
  const xE = d3.scaleBand(d3.range(19), [1206, 1636]);
  const yE = d3.scaleBand(d3.range(45), [37.5, 874.5]);
  const stops = d3.range(heatColors.length).map(i => heatRange[0] + i * (heatRange[1] - heatRange[0]) / (heatColors.length - 1));
  const color = d3.scaleLinear(stops, heatColors).clamp(true);
  txt(g, 1114, 42, "E", {size: 37});
  heatValues.forEach((row, r) => row.forEach((v, c) => {
    g.append("rect").attr("x", xE(c)).attr("y", yE(r)).attr("width", xE.bandwidth()).attr("height", yE.bandwidth())
      .attr("fill", color(v)).attr("stroke", "#979797").attr("stroke-width", 1.7);
  }));
  // row labels
  const labelX = 1641, maxW = 1962 - labelX - 10;
  rowNames.forEach((s, r) => {
    const t = txt(g, labelX, yE(r) + yE.bandwidth() / 2, s, {size: 14, dy: "0.36em", fill: "#111"});
    if (t.node().getComputedTextLength() > maxW) t.attr("font-size", 13.2).attr("textLength", maxW).attr("lengthAdjust", "spacingAndGlyphs");
  });
  // column labels
  colLabels.forEach((s, c) => {
    if (c === 0) txt(g, xE(c) + xE.bandwidth() / 2, yE(42) + yE.bandwidth() / 2, s, {size: 15, anchor: "middle", dy: "0.36em"});
    else if (s) txt(g, xE(c) + xE.bandwidth() / 2, 898, s, {size: 15, anchor: "middle"});
  });
  // annotation bar
  const annCol = {"OV": "#E99B9A", "OV_PTX": "#5FBDB0"};
  colGroups.forEach((grp, c) => g.append("rect").attr("x", xE(c)).attr("y", 899.5).attr("width", xE.bandwidth() + 0.5).attr("height", 5.5).attr("fill", annCol[grp]));
  groupNames.forEach(grp => {
    const idx = colGroups.map((d, i) => d === grp ? i : -1).filter(i => i >= 0);
    const x0 = xE(idx[0]), x1 = xE(idx[idx.length - 1]) + xE.bandwidth();
    txt(g, (x0 + x1) / 2 + (grp === "OV_PTX" ? 14 : 0), 920, grp, {size: 15, bold: true, anchor: "middle"});
  });
  // dendrograms
  function layout(node, leafPos) {
    if (!Array.isArray(node)) return {pos: leafPos(node), h: 0};
    const a = layout(node[1], leafPos), b = layout(node[2], leafPos);
    return {pos: (a.pos + b.pos) / 2, h: node[0], kids: [a, b]};
  }
  function segs(n, out) {
    if (n.kids) {
      n.kids.forEach(k => { out.push([k.pos, k.h, k.pos, n.h]); segs(k, out); });
      out.push([n.kids[0].pos, n.h, n.kids[1].pos, n.h]);
    }
    return out;
  }
  const colH = d3.scaleLinear([0, 1], [37.5, 1.8]);
  const ct = layout(colTree, i => xE(i) + xE.bandwidth() / 2);
  const cp = d3.path();
  segs(ct, []).forEach(([p1, h1, p2, h2]) => { cp.moveTo(p1, colH(h1)); cp.lineTo(p2, colH(h2)); });
  g.append("path").attr("d", cp.toString()).attr("stroke", "#222").attr("stroke-width", 1.6).attr("fill", "none");
  const rowH = d3.scaleLinear([0, 1], [1206, 1152.7]);
  const rt = layout(rowTree, i => yE(i) + yE.bandwidth() / 2);
  const rp = d3.path();
  segs(rt, []).forEach(([p1, h1, p2, h2]) => { rp.moveTo(rowH(h1), p1); rp.lineTo(rowH(h2), p2); });
  g.append("path").attr("d", rp.toString()).attr("stroke", "#222").attr("stroke-width", 1.4).attr("fill", "none");
  // colour legend
  const yL = d3.scaleLinear(heatRange, [355, 64.3]);
  const grad = defs.append("linearGradient").attr("id", "hgrad").attr("x1", 0).attr("x2", 0).attr("y1", 1).attr("y2", 0);
  stops.forEach((s, i) => grad.append("stop").attr("offset", i / (stops.length - 1)).attr("stop-color", heatColors[i]));
  g.append("rect").attr("x", 1862.7).attr("y", yL(heatRange[1])).attr("width", 15.6).attr("height", yL(heatRange[0]) - yL(heatRange[1])).attr("fill", "url(#hgrad)");
  heatLegendTicks.forEach(v => txt(g, 1885, yL(v), v < 0 ? "\u2212" + Math.abs(v) : String(v), {size: 15, dy: "0.36em", fill: "#111"}));
}
</script>
</body></html>
